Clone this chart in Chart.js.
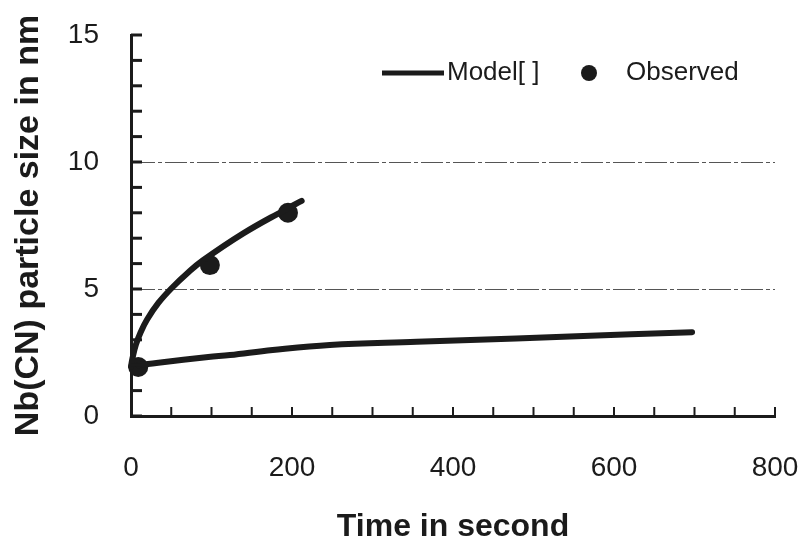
<!DOCTYPE html>
<html lang="en">
  <head>
    <meta charset="UTF-8" />
    <title>Nb(CN) particle size</title>
    <script src="https://cdn.jsdelivr.net/npm/chart.js"></script>
    <style>
      html,
      body {
        margin: 0;
        padding: 0;
        background: #fff;
      }
      #wrap {
        width: 810px;
        height: 548px;
      }
    </style>
  </head>
  <body>
    <div id="wrap"><canvas id="sizeChart"></canvas></div>

    <script>
      // values
      const modelFastTime = [0, 2, 6, 12, 20, 34, 51, 71, 89, 139, 189, 212];
      const modelFastSize = [1.95, 2.3, 2.8, 3.3, 3.8, 4.45, 5.05, 5.65, 6.12, 7.18, 8.08, 8.47];

      const modelSlowTime = [9, 34, 96, 123, 176, 247, 355, 412, 545, 697];
      const modelSlowSize = [2.0, 2.1, 2.32, 2.4, 2.6, 2.8, 2.92, 2.98, 3.13, 3.3];

      const observedTime = [9, 98, 195];
      const observedSize = [1.93, 5.94, 8.0];

      const xTickLabels = [0, 200, 400, 600, 800];
      const yTickLabels = [0, 5, 10, 15];

      const FONT = "'Liberation Sans', Arial, sans-serif";
      const INK = "#1b1b1b";
      const NONE = "rgba(0,0,0,0)";

      function toPoints(xs, ys) {
        return xs.map((x, i) => ({ x: x, y: ys[i] }));
      }

      // legend inside the plot, drawn by hand so spacing matches
      const legendPlugin = {
        id: "insideLegend",
        afterDraw(chart) {
          const ctx = chart.ctx;
          const ds = chart.data.datasets;
          ctx.save();
          ctx.fillStyle = INK;
          ctx.strokeStyle = INK;
          ctx.font = "26px " + FONT;
          ctx.textBaseline = "middle";

          ctx.lineWidth = 5;
          ctx.beginPath();
          ctx.moveTo(382, 73);
          ctx.lineTo(444, 73);
          ctx.stroke();
          ctx.fillText(ds[0].label, 447, 73);

          ctx.beginPath();
          ctx.arc(589, 73, 8, 0, Math.PI * 2);
          ctx.fill();
          ctx.fillText(ds[2].label, 626, 73);
          ctx.restore();
        },
      };

      // small inward tick marks on both axes
      const innerTicks = {
        id: "innerTicks",
        afterDraw(chart) {
          const ctx = chart.ctx;
          const x = chart.scales.x;
          const y = chart.scales.y;
          ctx.save();
          ctx.strokeStyle = INK;
          ctx.lineWidth = 3;
          y.ticks.forEach((t) => {
            const py = y.getPixelForValue(t.value);
            ctx.beginPath();
            ctx.moveTo(x.left, py);
            ctx.lineTo(x.left + 11, py);
            ctx.stroke();
          });
          ctx.lineWidth = 2;
          x.ticks.forEach((t) => {
            if (t.value === 0) return;
            const px = x.getPixelForValue(t.value);
            ctx.beginPath();
            ctx.moveTo(px, y.bottom);
            ctx.lineTo(px, y.bottom - 9);
            ctx.stroke();
          });
          ctx.restore();
        },
      };

      const ctx = document.getElementById("sizeChart").getContext("2d");

      new Chart(ctx, {
        type: "scatter",
        data: {
          datasets: [
            {
              label: "Model[ ]",
              data: toPoints(modelFastTime, modelFastSize),
              showLine: true,
              borderColor: INK,
              borderWidth: 6,
              pointRadius: 0,
              tension: 0.4,
              borderCapStyle: "round",
            },
            {
              label: "Model[ ]",
              data: toPoints(modelSlowTime, modelSlowSize),
              showLine: true,
              borderColor: INK,
              borderWidth: 6,
              pointRadius: 0,
              tension: 0.4,
              borderCapStyle: "round",
            },
            {
              label: "Observed",
              data: toPoints(observedTime, observedSize),
              pointRadius: 10,
              pointBackgroundColor: INK,
              pointBorderWidth: 0,
            },
          ],
        },
        options: {
          responsive: true,
          maintainAspectRatio: false,
          animation: false,
          clip: false,
          layout: {
            padding: { left: 0, right: 35, top: 35, bottom: 0 },
          },
          plugins: {
            legend: { display: false },
            tooltip: { enabled: false },
          },
          scales: {
            x: {
              type: "linear",
              min: 0,
              max: 800,
              afterFit: (s) => {
                s.height = 132;
              },
              ticks: {
                stepSize: 50,
                autoSkip: false,
                maxRotation: 0,
                padding: 0,
                color: INK,
                font: { family: FONT, size: 28 },
                callback: (v) => (xTickLabels.includes(v) ? v : ""),
              },
              grid: {
                drawOnChartArea: false,
                drawTicks: true,
                tickLength: 35,
                tickColor: NONE,
              },
              border: { color: INK, width: 3 },
              title: {
                display: true,
                text: "Time in second",
                color: INK,
                font: { family: FONT, size: 32, weight: "bold" },
                padding: { top: 4, bottom: 2 },
              },
            },
            y: {
              min: 0,
              max: 15,
              afterFit: (s) => {
                s.width = 131;
              },
              ticks: {
                stepSize: 1,
                autoSkip: false,
                padding: 0,
                color: INK,
                font: { family: FONT, size: 28 },
                callback: (v) => (yTickLabels.includes(v) ? v : ""),
              },
              grid: {
                drawTicks: true,
                tickLength: 32,
                tickColor: NONE,
                lineWidth: 1,
                color: (c) =>
                  c.tick && (c.tick.value === 5 || c.tick.value === 10)
                    ? "#555"
                    : NONE,
              },
              border: { color: INK, width: 3, dash: [22, 3, 4, 3] },
              title: {
                display: true,
                text: "Nb(CN) particle size in nm",
                color: INK,
                font: { family: FONT, size: 34, weight: "bold" },
                padding: { top: 8, bottom: 0 },
              },
            },
          },
        },
        plugins: [legendPlugin, innerTicks],
      });
    </script>
  </body>
</html>
